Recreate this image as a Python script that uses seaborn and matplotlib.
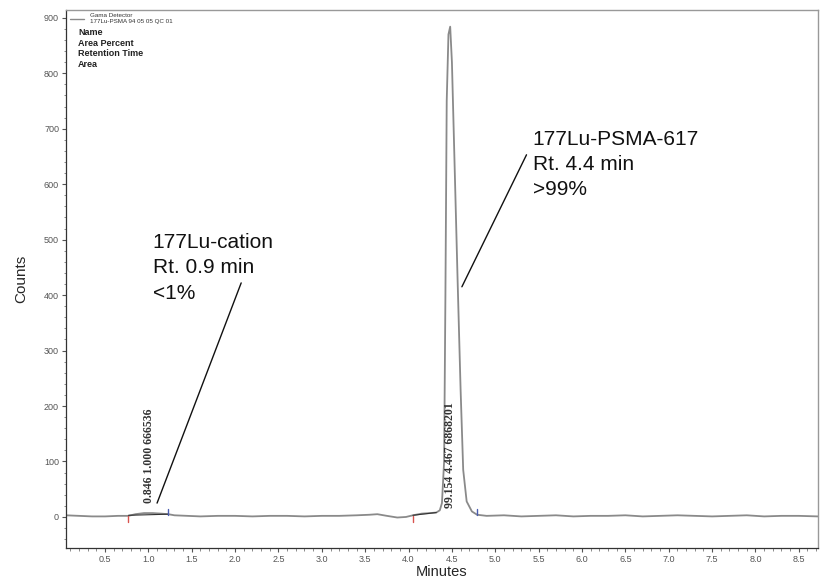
import matplotlib
matplotlib.use("Agg")
import matplotlib.pyplot as plt
from matplotlib.ticker import MultipleLocator
import seaborn as sns
import pandas as pd

# ---- data ----
minutes = [0.05, 0.2, 0.35, 0.5, 0.65, 0.77, 0.85, 0.95, 1.05, 1.15, 1.23, 1.3,
           1.45, 1.6, 1.8, 2.0, 2.2, 2.4, 2.6, 2.8, 3.0, 3.2, 3.4, 3.55, 3.64,
           3.75, 3.87, 3.97, 4.05, 4.15, 4.25, 4.32, 4.36, 4.385, 4.41, 4.425,
           4.44, 4.46, 4.48, 4.50, 4.53, 4.565, 4.60, 4.63, 4.67, 4.73, 4.79,
           4.9, 5.1, 5.3, 5.5, 5.7, 5.9, 6.1, 6.3, 6.5, 6.7, 6.9, 7.1, 7.3,
           7.5, 7.7, 7.9, 8.1, 8.3, 8.5, 8.72]
counts = [3, 2, 1, 1, 2, 2, 5, 7, 7, 6, 5, 3,
          2, 1, 2, 2, 1, 2, 2, 1, 2, 2, 3, 4, 5,
          2, -1, 0, 3, 6, 7, 8, 12, 25, 100, 400,
          750, 870, 884, 820, 640, 430, 230, 85, 28, 10, 4,
          2, 3, 1, 2, 3, 1, 2, 2, 3, 1, 2, 3, 2,
          1, 2, 3, 1, 2, 2, 1]

peak_labels = ["0.846 1.000 666536", "99.154 4.467 6868201"]
peak_label_x = [1.01, 4.477]
peak_label_y = [25, 16]

peak_start = [0.77, 4.05]
peak_end = [1.23, 4.79]

annot_texts = ["177Lu-cation\nRt. 0.9 min\n<1%",
               "177Lu-PSMA-617\nRt. 4.4 min\n>99%"]
annot_text_xy = [(1.05, 512), (5.43, 698)]
annot_line_start = [(1.10, 25), (4.615, 415)]
annot_line_end = [(2.07, 422), (5.36, 653)]

xticks = [0.5, 1.0, 1.5, 2.0, 2.5, 3.0, 3.5, 4.0, 4.5, 5.0, 5.5, 6.0, 6.5,
          7.0, 7.5, 8.0, 8.5]
yticks = [0, 100, 200, 300, 400, 500, 600, 700, 800, 900]

df = pd.DataFrame({"Minutes": minutes, "Counts": counts})

sns.set_style("ticks")
plt.rcParams['font.family'] = ['Liberation Sans', 'DejaVu Sans']

fig = plt.figure(figsize=(8.22, 5.79), dpi=100)
ax = fig.add_axes([0.0803, 0.0535, 0.9147, 0.9292])

sns.lineplot(data=df, x="Minutes", y="Counts", ax=ax, color="#8a8a8a",
             linewidth=1.3, estimator=None, sort=False)

# integration baselines and markers
ax.plot([peak_start[0], peak_end[0]], [3, 5], color="#333333", lw=0.8)
ax.plot([peak_start[1], 4.32], [3, 8], color="#333333", lw=0.8)
for xs in peak_start:
    ax.plot([xs, xs], [2, -9], color="#d9534f", lw=1.0)
for xe in peak_end:
    ax.plot([xe, xe], [4, 14], color="#4a5db0", lw=1.0)

for txt, x, y in zip(peak_labels, peak_label_x, peak_label_y):
    ax.text(x, y, txt, rotation=90, ha="center", va="bottom",
            fontsize=8.5, fontweight="bold", color="#333333",
            family=["Liberation Serif", "DejaVu Serif"])

for txt, (tx, ty), (x0, y0), (x1, y1) in zip(annot_texts, annot_text_xy,
                                             annot_line_start, annot_line_end):
    ax.text(tx, ty, txt, ha="left", va="top", fontsize=15, color="#111111",
            linespacing=1.42)
    ax.plot([x0, x1], [y0, y1], color="#111111", lw=1.0)

ax.set_xlim(0.05, 8.72)
ax.set_ylim(-56, 914)
ax.set_xticks(xticks)
ax.set_xticklabels([f"{v:.1f}" for v in xticks])
ax.set_yticks(yticks)
ax.xaxis.set_minor_locator(MultipleLocator(0.1))
ax.yaxis.set_minor_locator(MultipleLocator(20))
ax.tick_params(axis="both", which="major", length=3, width=0.8,
               labelsize=6.5, labelcolor="#555555", color="#555555", pad=2)
ax.tick_params(axis="both", which="minor", length=1.8, width=0.6,
               color="#777777")

for side in ["left", "bottom"]:
    ax.spines[side].set_color("#333333")
    ax.spines[side].set_linewidth(0.9)
for side in ["top", "right"]:
    ax.spines[side].set_visible(True)
    ax.spines[side].set_color("#999999")
    ax.spines[side].set_linewidth(1.0)

ax.set_xlabel("Minutes", fontsize=10.5, labelpad=1)
ax.set_ylabel("Counts", fontsize=11, labelpad=11)

# header block (top-left)
ax.plot([0.10, 0.26], [898, 898], color="#8a8a8a", lw=1.0)
ax.text(0.33, 904, "Gama Detector", fontsize=4.5, color="#333333",
        va="center")
ax.text(0.33, 893, "177Lu-PSMA 94 05 05 QC 01", fontsize=4.5,
        color="#333333", va="center")
header = ["Name", "Area Percent", "Retention Time", "Area"]
for i, h in enumerate(header):
    ax.text(0.19, 873 - i * 19, h, fontsize=6.5, fontweight="bold",
            color="#222222", va="center")

fig.savefig("out.png", dpi=100)
